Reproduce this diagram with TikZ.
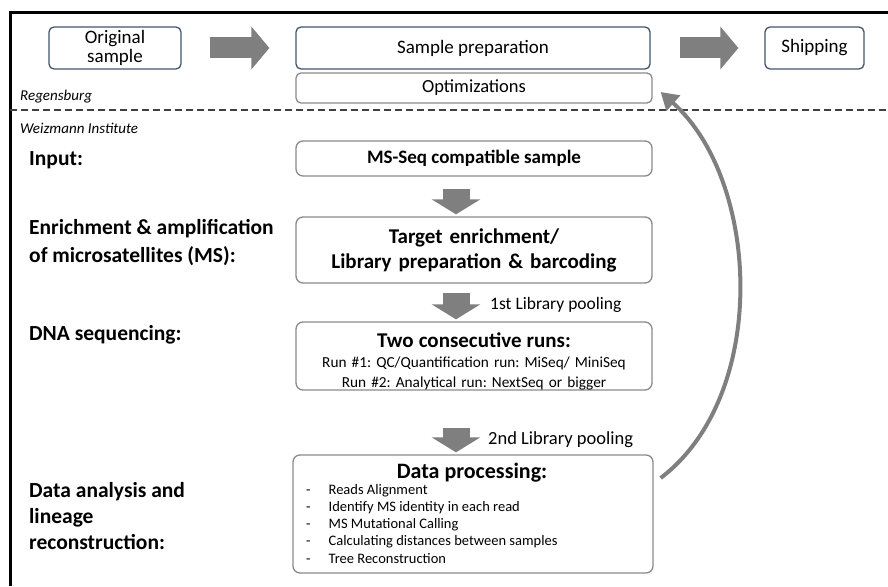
\documentclass[tikz,border=0pt]{standalone}
\usepackage{fontspec}
\setmainfont{Carlito}
\usetikzlibrary{arrows.meta}
\frenchspacing

\definecolor{boxblue}{HTML}{44546A}
\definecolor{boxgrey}{HTML}{8A8A8A}
\definecolor{arrowgrey}{HTML}{7F7F7F}

\tikzset{
	topbox/.style={draw=boxblue, line width=1.3pt, rounded corners=5pt, inner sep=0pt, align=center, font=\fontsize{19}{19}\selectfont},
	greybox/.style={draw=boxgrey, line width=1.3pt, rounded corners=7pt, inner sep=0pt, align=center},
	steplabel/.style={anchor=west, inner sep=0pt, align=left},
	sitelabel/.style={anchor=west, inner sep=0pt, font=\itshape\fontsize{15}{16}\selectfont},
	poollabel/.style={anchor=west, inner sep=0pt, font=\fontsize{18.5}{20}\selectfont},
	rightarrow/.style={draw=arrowgrey, line width=21pt, -{Triangle[width=42pt,length=18pt]}},
	downarrow/.style={draw=arrowgrey, line width=27pt, -{Triangle[width=48pt,length=15pt]}},
}

\begin{document}
\begin{tikzpicture}[x=1pt,y=-1pt]
	\useasboundingbox (0,0) rectangle (888,586);
	% frame and site separator
	\draw[line width=3pt] (10,586) -- (10,13) -- (888,13);
	\draw[line width=1.5pt, black!75, dash pattern=on 7pt off 4pt] (10,110) -- (888,110);
	\node[sitelabel] (reg) at (20,97) {Regensburg};
	\node[sitelabel] (wis) at (20,128) {Weizmann Institute};

	% Regensburg
	\node[topbox, minimum width=132pt, minimum height=42pt] (orig) at (115,48)
	{Original\\sample};
	\node[topbox, minimum width=354pt, minimum height=42pt] (prep) at (473,48)
	{Sample preparation};
	\node[topbox, minimum width=99pt, minimum height=42pt] (ship) at (814.5,48)
	{Shipping};
	\node[greybox, rounded corners=5pt, minimum width=356pt, minimum height=30pt, font=\fontsize{18.5}{19}\selectfont] (opt) at (474,88)
	{Optimizations};

	\draw[rightarrow, shorten <=28pt, shorten >=26pt] (orig) -- (prep);
	\draw[rightarrow, shorten <=29pt, shorten >=26pt] (prep) -- (ship);

	% Weizmann pipeline
	\node[steplabel, font=\bfseries\fontsize{21.5}{22}\selectfont] (lin) at (29,160) {Input:};
	\node[steplabel, font=\bfseries\fontsize{21.5}{28}\selectfont] (lenr) at (29,243)
	{Enrichment \& amplification\\of microsatellites (MS):};
	\node[steplabel, font=\bfseries\fontsize{21.5}{22}\selectfont] (lseq) at (29,335) {DNA sequencing:};
	\node[steplabel, font=\bfseries\fontsize{21.5}{26}\selectfont] (lana) at (29,516)
	{Data analysis and\\lineage\\reconstruction:};

	\node[greybox, minimum width=356pt, minimum height=35pt, font=\bfseries\fontsize{19}{20}\selectfont] (msseq) at (474,158.5)
	{MS-Seq compatible sample};
	\node[greybox, minimum width=356pt, minimum height=66pt, text width=356pt, font=\bfseries\fontsize{21}{25}\selectfont] (target) at (474,250)
	{Target enrichment/\\Library preparation \& barcoding};
	\node[greybox, minimum width=356pt, minimum height=68pt] (runs) at (474,356) {};
	\node[inner sep=0pt, text width=356pt, align=center, font=\fontsize{15.3}{20}\selectfont] (runstext) at (474,361)
	{{\bfseries\fontsize{21}{20}\selectfont Two consecutive runs:}\\
	Run \#1: QC/Quantification run: MiSeq/ MiniSeq\\
	Run \#2: Analytical run: NextSeq or bigger};
	\node[greybox, minimum width=360pt, minimum height=118pt] (dproc) at (473,514) {};
	\node[anchor=north, inner sep=0pt, font=\bfseries\fontsize{22}{23}\selectfont] (dtitle) at (472,463)
	{Data processing:};
	\node[anchor=north west, inner sep=0pt, align=left, font=\fontsize{14.5}{17.2}\selectfont] (dlist) at (306,484)
	{-\hspace{18pt}Reads Alignment\\
	-\hspace{18pt}Identify MS identity in each read\\
	-\hspace{18pt}MS Mutational Calling\\
	-\hspace{18pt}Calculating distances between samples\\
	-\hspace{18pt}Tree Reconstruction};

	\coordinate (dn) at (456,0);
	\draw[downarrow, shorten <=12pt, shorten >=2pt] (msseq.south -| dn) -- (target.north -| dn);
	\draw[downarrow, shorten <=9pt, shorten >=2pt] (target.south -| dn) -- (runs.north -| dn);
	\draw[downarrow, shorten <=37pt, shorten >=2pt] (runs.south -| dn) -- (dproc.north -| dn);
	\node[poollabel, font=\fontsize{17.5}{19}\selectfont] (pool1) at (490,305) {1st Library pooling};
	\node[poollabel] (pool2) at (488,440) {2nd Library pooling};

	% feedback to optimizations
	\draw[arrowgrey, line width=4pt, -{Triangle[width=20pt,length=17pt]}]
	([xshift=7pt,yshift=36pt]dproc.east) .. controls (770,395) and (760,180) .. ([xshift=8pt,yshift=-4pt]opt.east);
\end{tikzpicture}
\end{document}
